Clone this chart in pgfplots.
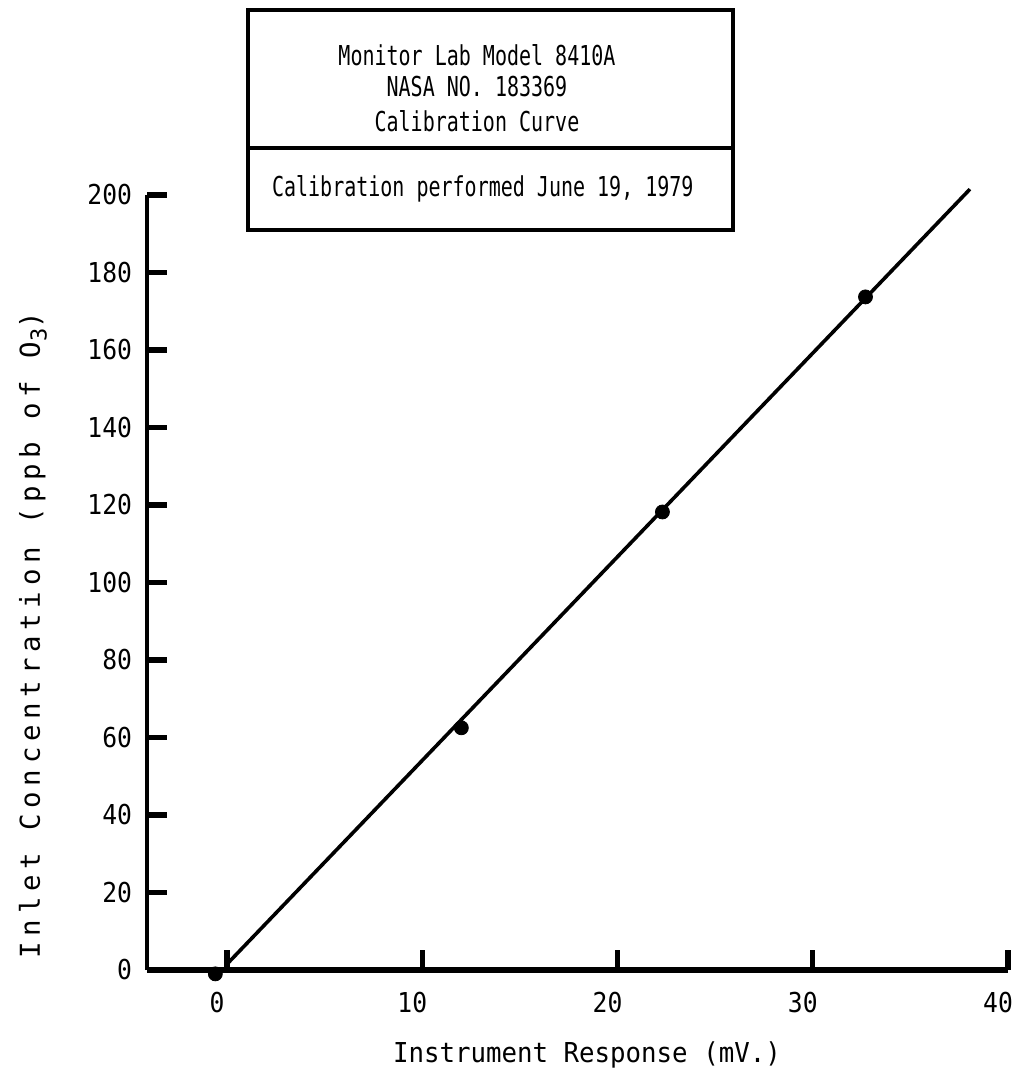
\documentclass[border=0pt]{standalone}
\usepackage{fontspec}
\usepackage{pgfplots}
\pgfplotsset{compat=1.18}
\setmainfont{DejaVu Sans Mono}
\newfontfamily\boxfont{DejaVu Sans Mono}[FakeStretch=0.73]
\newfontfamily\xlabfont{DejaVu Sans Mono}[FakeStretch=0.94]
\newfontfamily\ylabfont{DejaVu Sans Mono}[LetterSpace=21]
\newfontfamily\tickfont{DejaVu Sans Mono}[FakeStretch=0.9]
\newcommand\fs{\fontsize{13.7bp}{16.5bp}\selectfont}

\pgfplotstableread{
x y
-0.6 -1
12.0 62.5
22.3 118.2
32.7 173.7
}\calpoints

\pgfplotstableread{
x y
0.05 1.8
38.05 201.5
}\calline

\begin{document}
\begin{tikzpicture}
\begin{axis}[
  scale only axis=true,
  width=430.5bp, height=387.5bp,
  xmin=-4.1, xmax=40, ymin=0, ymax=200,
  axis lines=left,
  axis line style={-},
  x axis line style={line width=3bp},
  y axis line style={line width=2.2bp},
  xtick={0,10,...,40},
  ytick={0,20,...,200},
  tick align=inside,
  major tick length=10bp,
  tick style={line width=2.6bp, black},
  /pgf/number format/assume math mode=true,
  ticklabel style={font=\tickfont\fs},
  xticklabel style={xshift=-5bp, yshift=-7.4bp},
  yticklabel style={xshift=-4bp},
  xlabel={Instrument Response (mV.)},
  xlabel style={font=\xlabfont\fs, at={(rel axis cs:0.511,0)}, anchor=base, yshift=-46bp},
  ylabel={Inlet Concentration (ppb of O\raisebox{-0.45ex}{\fontsize{11bp}{11bp}\selectfont 3})},
  ylabel style={font=\ylabfont\fs, at={(rel axis cs:-0.1243,0.432)}, anchor=base},
  clip=false,
]
\addplot[line width=1.8bp, black] table[x=x, y=y] {\calline};
\addplot[only marks, mark=*, mark size=3.5bp, black] table[x=x, y=y] {\calpoints};

\draw[line width=2bp] (axis cs:1.08,191.0) rectangle (axis cs:25.9,247.7);
\draw[line width=2bp] (axis cs:1.08,212.1) -- (axis cs:25.9,212.1);
\node[anchor=base, font=\boxfont\fs] at (axis cs:12.8,233.5) {Monitor Lab Model 8410A};
\node[anchor=base, font=\boxfont\fs] at (axis cs:12.8,225.3) {NASA NO. 183369};
\node[anchor=base, font=\boxfont\fs] at (axis cs:12.8,216.5) {Calibration Curve};
\node[anchor=base, font=\boxfont\fs] at (axis cs:13.1,199.5) {Calibration performed June 19, 1979};
\end{axis}
\pgfresetboundingbox
\path[use as bounding box] ([xshift=-73.5bp,yshift=-50bp]current axis.south west) rectangle ([xshift=3.5bp,yshift=97.5bp]current axis.north east);
\end{tikzpicture}
\end{document}
